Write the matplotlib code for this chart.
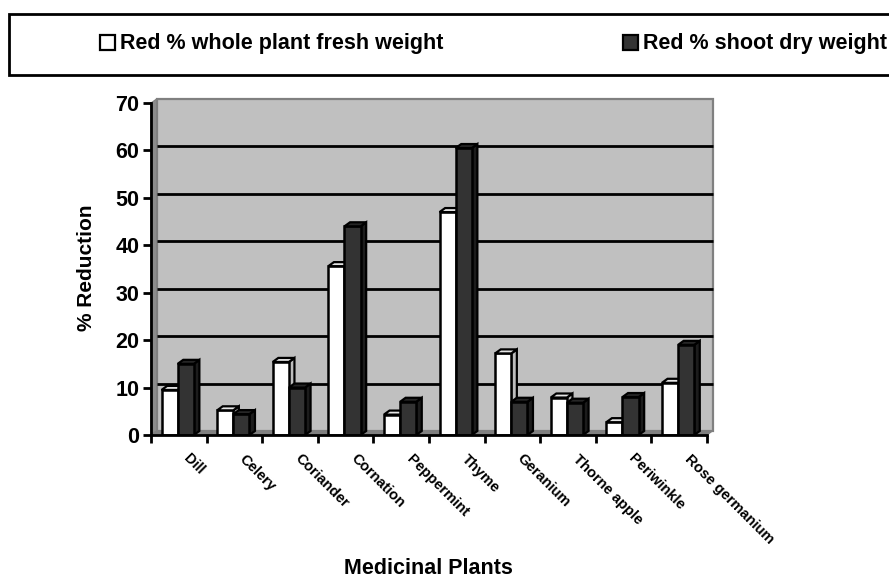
import numpy as np
import matplotlib
matplotlib.use('Agg')
import matplotlib.pyplot as plt
from matplotlib.patches import Rectangle

# reduction chart, old Excel style 3D columns
plants = ['Dill', 'Celery', 'Coriander', 'Cornation', 'Peppermint', 'Thyme',
          'Geranium', 'Thorne apple', 'Periwinkle', 'Rose germanium']
fresh_weight = [9.5, 5.2, 15.4, 35.6, 4.3, 47, 17.2, 7.9, 2.7, 11]
dry_weight = [15, 4.4, 10, 44, 7, 60.5, 7, 6.8, 8, 19]
y_ticks = [0, 10, 20, 30, 40, 50, 60, 70]

W, H = 889, 578
DX, DY = 0.1, 0.85  # depth of the 3D effect in data units
BAR_W = 0.29
BAR_START = 0.19

plt.rcParams['font.family'] = ['Liberation Sans', 'DejaVu Sans']
plt.rcParams['font.weight'] = 'bold'

fig = plt.figure(figsize=(W / 100, H / 100), dpi=100)
ax = fig.add_axes([151 / W, 1 - 435 / H, 556 / W, 332 / H])
ax.set_xlim(0, 10)
ax.set_ylim(0, 70)
ax.patch.set_visible(False)


def bar3d(x, val, front, top, side):
    ax.bar(x, val, BAR_W, align='edge', color=front, edgecolor='black', linewidth=1.8, zorder=5)
    ax.fill([x, x + DX, x + BAR_W + DX, x + BAR_W], [val, val + DY, val + DY, val],
            facecolor=top, edgecolor='black', linewidth=1.6, zorder=5)
    ax.fill([x + BAR_W, x + BAR_W + DX, x + BAR_W + DX, x + BAR_W], [0, DY, val + DY, val],
            facecolor=side, edgecolor='black', linewidth=1.6, zorder=4)


# back wall, side wall and floor
ax.fill([DX, 10 + DX, 10 + DX, DX], [DY, DY, 70 + DY, 70 + DY], facecolor='#c0c0c0',
        edgecolor='#808080', linewidth=1.6, zorder=1, clip_on=False)
ax.fill([0, DX, DX, 0], [0, DY, 70 + DY, 70], facecolor='#8c8c8c', edgecolor='#808080',
        linewidth=0.8, zorder=1, clip_on=False)
ax.fill([0, DX, 10 + DX, 10], [0, DY, DY, 0], facecolor='#808080', edgecolor='#808080',
        linewidth=0.8, zorder=1, clip_on=False)
for v in y_ticks[1:-1]:
    ax.plot([DX, 10 + DX], [v + DY, v + DY], color='black', linewidth=2, zorder=2,
            clip_on=False, solid_capstyle='butt')

for i in range(len(plants)):
    bar3d(i + BAR_START, fresh_weight[i], 'white', '#e6e6e6', '#bdbdbd')
    bar3d(i + BAR_START + BAR_W, dry_weight[i], '#333333', '#262626', '#1c1c1c')

for side in ['top', 'right']:
    ax.spines[side].set_visible(False)
for side in ['left', 'bottom']:
    ax.spines[side].set_linewidth(2)
    ax.spines[side].set_zorder(6)

ax.set_yticks(y_ticks)
ax.set_xticks(np.arange(0, 11))
ax.set_xticklabels([])
ax.tick_params(axis='both', which='major', width=2, length=6, labelsize=15.5, pad=2.5)
ax.set_xticks(np.arange(len(plants)) + 0.72, minor=True)
ax.set_xticklabels(plants, minor=True, rotation=-45, ha='left', va='top',
                   rotation_mode='anchor', fontsize=10.6)
ax.tick_params(axis='x', which='minor', length=0, pad=12)

ax.set_ylabel('% Reduction', fontsize=15, fontweight='bold')
ax.yaxis.set_label_coords((87 - 151) / 556, 0.505)
ax.yaxis.label.set_va('center')
fig.text(428 / W, 1 - 568 / H, 'Medicinal Plants', fontsize=15.5, ha='center', va='center')

# legend box runs off the right edge
fig.add_artist(Rectangle((8.5 / W, 1 - 74.5 / H), 900 / W, 61 / H, transform=fig.transFigure,
                         facecolor='white', edgecolor='black', linewidth=2))
for x0, x_txt, col, txt in [(100, 120, 'white', 'Red % whole plant fresh weight'),
                            (623, 643, '#333333', 'Red % shoot dry weight')]:
    fig.add_artist(Rectangle((x0 / W, 1 - 50 / H), 15 / W, 15 / H, transform=fig.transFigure,
                             facecolor=col, edgecolor='black', linewidth=1.6))
    fig.text(x_txt / W, 1 - 43 / H, txt, fontsize=15.5, ha='left', va='center')

fig.savefig('out.png', dpi=100)
